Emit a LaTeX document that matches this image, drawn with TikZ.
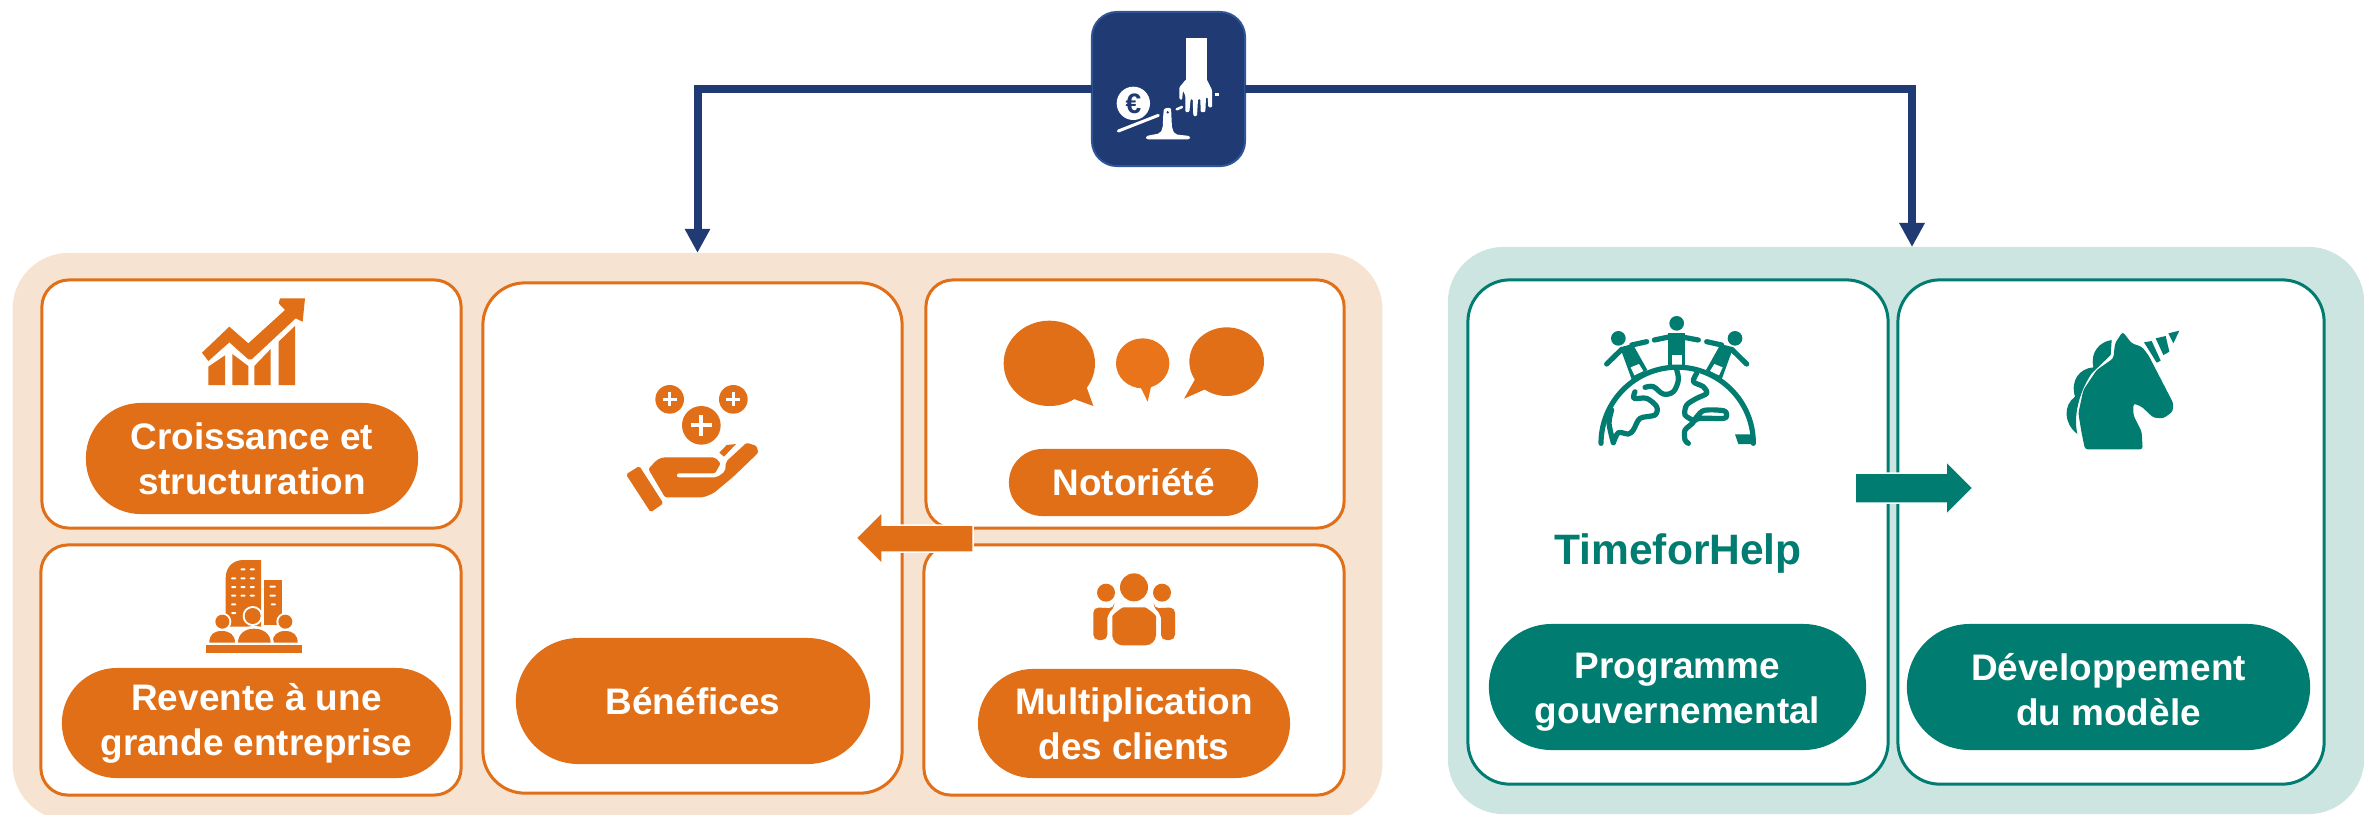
\documentclass[tikz,border=0pt]{standalone}
\usepackage{fontspec}
\setmainfont{Liberation Sans}
\usetikzlibrary{arrows.meta}
\definecolor{org}{HTML}{E06F17}
\definecolor{orgl}{HTML}{E97419}
\definecolor{orgp}{HTML}{F7E3D2}
\definecolor{tl}{HTML}{007C70}
\definecolor{tlp}{HTML}{CDE5E1}
\definecolor{nv}{HTML}{203A74}
\definecolor{nve}{HTML}{2F5597}
\tikzset{
  every node/.style={inner sep=0pt,outer sep=0pt,align=center},
  panel/.style={rounded corners=.56cm},
  ocard/.style={draw=org,line width=.03cm,fill=white,rounded corners=.27cm},
  ocardb/.style={draw=org,line width=.03cm,fill=white,rounded corners=.42cm},
  tcard/.style={draw=tl,line width=.03cm,fill=white,rounded corners=.42cm},
  pilltext/.style={text=white,font=\fontsize{10.5}{12.8}\selectfont\bfseries},
  opill/.style={pilltext,fill=org,rounded corners=.549cm},
  tpill/.style={pilltext,fill=tl,rounded corners=.629cm},
  link/.style={draw=nv,line width=.08cm,-{Triangle[length=.24cm,width=.24cm]}},
  iconline/.style={line cap=round,line join=round},
  size/.style 2 args={minimum width=#1cm,minimum height=#2cm},
}
\begin{document}
\begin{tikzpicture}[x=.01cm,y=-.01cm]
\useasboundingbox (0,0) rectangle (2364,814);
% panels
\begin{scope}
\clip (0,0) rectangle (2364,814);
\node[panel,fill=orgp,size={13.69}{5.67}] (po) at (697.5,536.5) {};
\node[panel,fill=tlp,size={9.16}{5.67}] (pt) at (1906,530.5) {};
\end{scope}
\coordinate (tin) at (1912,247);
% top icon
\node[draw=nve,line width=.02cm,fill=nv,rounded corners=.25cm,size={1.53}{1.54}] (top) at (1168.5,89) {};
\draw[link] (top.west) -| (po.north);
\draw[link] (top.east) -| (tin);
% cards
\node[ocard,size={4.19}{2.48}] (c1) at (251.5,404) {};
\node[ocard,size={4.20}{2.50}] (c2) at (251,670) {};
\node[ocardb,size={4.19}{5.10}] (c3) at (692.5,538) {};
\node[ocard,size={4.18}{2.48}] (c4) at (1135,404) {};
\node[ocard,size={4.20}{2.50}] (c5) at (1134,670) {};
\node[tcard,size={4.20}{5.04}] (c6) at (1678,532) {};
\node[tcard,size={4.26}{5.04}] (c7) at (2111,532) {};
% pills
\node[opill,size={3.32}{1.11}] (p1) at (252,458.5) {Croissance et\\structuration};
\node[opill,size={3.89}{1.10}] (p2) at (256.5,723) {Revente à une\\grande entreprise};
\node[opill,rounded corners=.629cm,size={3.54}{1.26}] (p3) at (693,701) {Bénéfices};
\node[opill,rounded corners=.334cm,size={2.49}{.67}] (p4) at (1133.5,482.5) {Notoriété};
\node[opill,size={3.12}{1.09}] (p5) at (1134,723.5) {Multiplication\\des clients};
\node[tpill,size={3.77}{1.26}] (p6) at (1677.5,687) {};
\node[tpill,size={4.03}{1.26}] (p7) at (2108.5,687) {};
\node[pilltext] (t6) at ([yshift=-.055cm]p6.center) {Programme\\gouvernemental};
\node[pilltext] (t7) at ([yshift=-.03cm]p7.center) {Développement\\du modèle};
\node[text=tl,font=\fontsize{12.1}{14}\selectfont\bfseries] (tfh) at (1678,553) {TimeforHelp};
% block arrows
\fill[org,draw=white,line width=.015cm] (973,525) -- (882,525) -- (882,512) -- (856,538) -- (882,564) -- (882,552) -- (973,552) -- cycle;
\fill[tl,draw=white,line width=.015cm] (1855,473) -- (1946,473) -- (1946,461) -- (1973,488) -- (1946,515) -- (1946,503) -- (1855,503) -- cycle;
% balance icon
\begin{scope}[shift={(1040,0)},scale=1/3]
\fill[white] (438,115) rectangle (500,240);
\fill[white,rounded corners=.3pt] (418,262) -- (438,238) -- (500,238) -- (516,270) -- (516,322) -- (505,322) -- (503,292) -- (498,292) -- (496,336) -- (482,336) -- (481,297) -- (474,297) -- (471,348) -- (460,348) -- (458,297) -- (452,297) -- (448,336) -- (436,336) -- (436,287) -- (429,272) -- (426,300) -- (418,297) -- cycle;
\fill[white] (525,279) rectangle (536,289);
\fill[white] (280,310) circle (50);
\node[text=nv,font=\fontsize{8}{8}\selectfont\bfseries] (euro) at (280,312) {€};
\draw[white,line width=.03cm,iconline] (235,393) -- (355,346);
\draw[white,line width=.025cm,iconline] (410,328) -- (426,321);
\fill[white,rounded corners=.6pt] (370,340) -- (372,325) -- (393,323) -- (396,385) -- (405,403) -- (450,408) -- (450,418) -- (318,418) -- (318,408) -- (360,400) -- (368,385) -- cycle;
\fill[nv] (383,337) circle (4);
\end{scope}
% chart icon
\begin{scope}[shift={(180,280)},scale=1/3]
\fill[org] (66,218) -- (148,140) -- (205,190) -- (315,90) -- (296,70) -- (300,55) -- (375,55) -- (368,125) -- (347,115) -- (215,238) -- (205,238) -- (148,187) -- (85,243) -- cycle;
\fill[org] (85,260) -- (135,226) -- (135,315) -- (85,315) -- cycle;
\fill[org] (157,222) -- (205,258) -- (205,315) -- (157,315) -- cycle;
\fill[org] (223,258) -- (272,207) -- (272,315) -- (223,315) -- cycle;
\fill[org] (296,185) -- (345,138) -- (345,315) -- (296,315) -- cycle;
\end{scope}
% building icon
\begin{scope}[shift={(180,550)},scale=1/3]
\fill[org] (137,230) -- (137,85) .. controls (137,50) and (160,30) .. (190,30) -- (243,30) -- (243,230) -- cycle;
\fill[org] (251,90) -- (305,90) -- (305,225) -- (251,225) -- cycle;
\foreach \yy/\xx in {58/181,58/209,85/153,85/181,85/209,111/153,111/181,111/209,137/153,137/181,137/209,163/153,189/153}
  \fill[white,rounded corners=.3pt] (\xx,\yy-3) rectangle (\xx+16,\yy+3);
\foreach \yy/\xx/\ww in {110/268/20,137/268/20,163/272/16}
  \fill[white,rounded corners=.3pt] (\xx,\yy-3) rectangle (\xx+\ww,\yy+3);
\fill[white] (218,198) circle (30);
\fill[org] (218,198) circle (24);
\fill[white] (127,215) circle (27);
\fill[org] (127,215) circle (21);
\fill[white] (316,215) circle (27);
\fill[org] (316,215) circle (21);
\fill[white] (80,285) rectangle (362,240);
\fill[org] (88,278) .. controls (88,255) and (100,243) .. (125,243) .. controls (150,243) and (165,255) .. (165,278) -- cycle;
\fill[org] (278,278) .. controls (278,255) and (292,243) .. (316,243) .. controls (340,243) and (353,255) .. (353,278) -- cycle;
\fill[white] (164,285) .. controls (164,250) and (190,228) .. (222,228) .. controls (255,228) and (282,250) .. (282,285) -- cycle;
\fill[org] (174,278) .. controls (174,252) and (195,236) .. (222,236) .. controls (250,236) and (272,252) .. (272,278) -- cycle;
\fill[org] (78,285) rectangle (366,308);
\end{scope}
% hand icon
\begin{scope}[shift={(480,270)},scale=1/3]
\foreach \cx/\cy/\rr/\aa/\bb in {569/388/43/21/5,760/388/43/21/5,664/466/58/31/6}{
  \fill[org] (\cx,\cy) circle (\rr);
  \fill[white] (\cx-\aa,\cy-\bb) rectangle (\cx+\aa,\cy+\bb);
  \fill[white] (\cx-\bb,\cy-\aa) rectangle (\cx+\bb,\cy+\aa);
}
\fill[org,rounded corners=.5pt] (438,613) -- (478,588) -- (550,700) -- (512,727) -- cycle;
\fill[org,rounded corners=.6pt] (505,597) -- (530,570) -- (548,562) -- (705,562) -- (722,580) -- (705,610) -- (590,610) -- (590,622) -- (710,622) -- (735,605) -- (738,575) -- (800,518) -- (830,528) -- (835,548) -- (760,620) -- (700,670) -- (670,682) -- (555,682) -- cycle;
\fill[org] (718,548) -- (740,525) -- (768,522) -- (732,560) -- cycle;
\end{scope}
% speech icon + people
\begin{scope}[shift={(920,280)},scale=1/3]
\fill[org] (388,250) ellipse (137 and 128);
\fill[org] (500,322) -- (520,378) -- (462,357) -- (450,300) -- cycle;
\fill[orgl] (668,250) ellipse (80 and 75);
\fill[orgl] (662,322) -- (683,365) -- (693,320) -- cycle;
\fill[org] (920,245) ellipse (112 and 103);
\fill[org] (825,298) -- (792,356) -- (855,328) -- (870,290) -- cycle;
\fill[org] (642,922) circle (42);
\fill[org] (558,938) circle (27);
\fill[org] (726,938) circle (27);
\fill[org,rounded corners=3pt] (577,1096) -- (577,1040) .. controls (577,1005) and (605,982) .. (642,982) .. controls (680,982) and (708,1005) .. (708,1040) -- (708,1096) -- cycle;
\fill[org,rounded corners=1.5pt] (583,985) -- (520,982) -- (520,1080) -- (562,1080) -- (562,1030) .. controls (562,1010) and (570,995) .. (583,985) -- cycle;
\fill[org,rounded corners=1.5pt] (701,985) -- (765,982) -- (765,1080) -- (723,1080) -- (723,1030) .. controls (723,1010) and (715,995) .. (701,985) -- cycle;
\end{scope}
% globe icon
\begin{scope}[shift={(1540,290)},scale=1/3]
\tikzset{gl/.style={draw=tl,line width=.052cm,iconline}}
\fill[tl] (235,145) circle (22);
\fill[tl] (410,100) circle (22);
\fill[tl] (585,145) circle (22);
\draw[gl] (343,150) -- (405,137) -- (475,150);
\fill[tl] (385,130) rectangle (435,230);
\fill[white] (395,195) rectangle (425,225);
\draw[gl] (200,222) -- (245,178);
\draw[gl] (275,165) -- (320,155);
\fill[tl] (240,172) -- (278,162) -- (322,240) -- (275,268) -- cycle;
\fill[white] (272,232) -- (297,222) -- (310,243) -- (283,256) -- cycle;
\draw[gl] (620,222) -- (575,178);
\draw[gl] (545,165) -- (500,155);
\fill[tl] (580,172) -- (542,162) -- (498,240) -- (545,268) -- cycle;
\fill[white] (548,232) -- (523,222) -- (510,243) -- (537,256) -- cycle;
\draw[gl] (183,460) arc (180:360:228.5);
\draw[gl] plot[smooth,tension=.6] coordinates {(410,240) (415,270) (400,305) (370,312) (340,290) (315,292)};
\draw[gl] plot[smooth,tension=.5] coordinates {(285,305) (282,325) (320,325) (350,350) (345,375) (300,385) (280,420) (265,432) (235,428) (220,458)};
\draw[gl] plot[smooth,tension=.5] coordinates {(215,360) (207,400) (220,458)};
\draw[gl] plot[smooth,tension=.5] coordinates {(470,250) (460,275) (490,290) (500,310) (470,325) (440,345) (435,375) (460,395) (435,420) (435,450) (445,460)};
\draw[gl] plot[smooth,tension=.5] coordinates {(460,395) (490,362) (550,362) (560,375) (550,385) (480,385) (460,395)};
\fill[tl] (585,433) -- (640,433) -- (640,462) -- (595,462) -- cycle;
\end{scope}
% unicorn icon
\begin{scope}[shift={(1900,290)},scale=1/3]
\fill[tl,rounded corners=.8pt] (640,205) -- (645,160) -- (668,125) -- (695,160) -- (725,170) -- (745,195) -- (820,340) -- (818,365) -- (790,385) -- (760,383) -- (725,350) -- (700,340) -- (700,375) -- (725,425) -- (728,478) -- (555,478) -- (545,430) -- (535,370) -- (550,300) -- (590,240) -- cycle;
\fill[tl] (635,150) .. controls (600,155) and (570,185) .. (580,232) .. controls (540,235) and (510,270) .. (525,320) .. controls (490,345) and (490,400) .. (532,432) .. controls (520,380) and (535,310) .. (575,250) -- (632,195) -- cycle;
\fill[tl] (732,157) -- (755,153) -- (782,212) -- (770,218) -- cycle;
\fill[tl] (767,145) -- (797,138) -- (808,185) -- (790,195) -- cycle;
\fill[tl] (805,130) -- (838,122) -- (820,160) -- cycle;
\end{scope}
\end{tikzpicture}
\end{document}
